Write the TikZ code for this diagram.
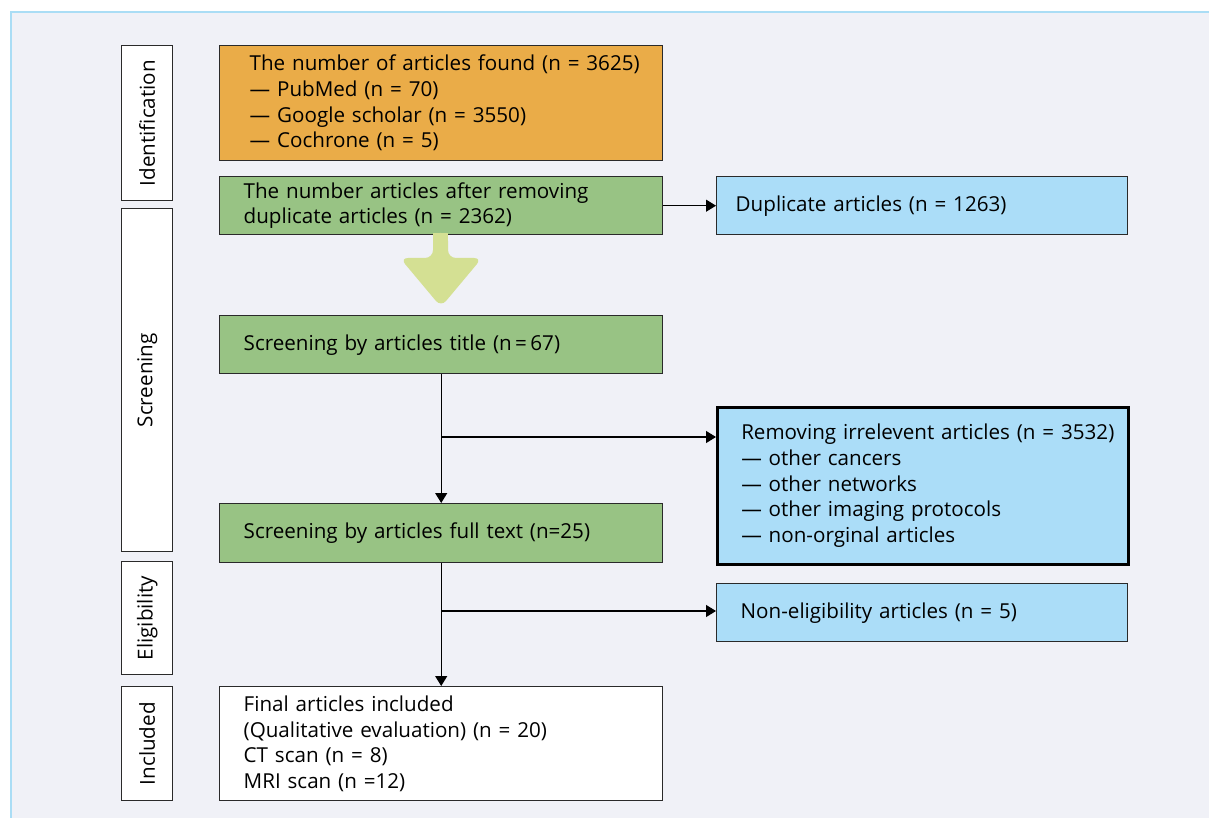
\documentclass[tikz,border=0pt]{standalone}
\usepackage{fontspec}
\setmainfont{Open Sans}
\usetikzlibrary{arrows.meta}
\definecolor{panelbg}{HTML}{F0F1F7}
\definecolor{panelline}{HTML}{AADDF5}
\definecolor{orangefill}{HTML}{EAAC48}
\definecolor{greenfill}{HTML}{98C384}
\definecolor{bluefill}{HTML}{ABDDF8}
\definecolor{bigarrow}{HTML}{D4E093}
\definecolor{edge}{HTML}{2A2A2A}
\tikzset{
  every node/.style={font=\fontsize{20.6}{25.7}\selectfont},
  box/.style={draw=edge, line width=1.4pt, anchor=north west, inner xsep=0pt, inner ysep=0pt, align=left},
  phase/.style={draw=edge, line width=1.4pt, fill=white, anchor=north west, minimum width=51pt, inner sep=0pt},
  conn/.style={draw=black, line width=1.2pt, -{Triangle[length=10pt,width=12pt]}},
}
\begin{document}
\begin{tikzpicture}[x=1pt,y=-1pt]
\useasboundingbox (0,0) rectangle (1209,818);
% panel
\fill[panelbg] (11,12) rectangle (1209,818);
\draw[panelline, line width=1.5pt] (11,818) -- (11,12) -- (1209,12);

% phase labels
\node[phase, minimum height=155pt] (pid) at (121,45) {\rotatebox{90}{Identification}};
\node[phase, minimum height=343pt] (pscr) at (121,208) {\rotatebox{90}{Screening}};
\node[phase, minimum height=113pt] (pelig) at (121,561) {\rotatebox{90}{Eligibility}};
\node[phase, minimum height=114pt] (pinc) at (121,686) {\rotatebox{90}{Included}};

% main column
\node[box, fill=orangefill, minimum width=443pt, minimum height=115pt, text width=443pt] (found) at (219,45)
  {\hspace*{30pt}The number of articles found (n = 3625)\\
   \hspace*{30pt}— PubMed (n = 70)\\
   \hspace*{30pt}— Google scholar (n = 3550)\\
   \hspace*{30pt}— Cochrone (n = 5)};
\node[box, fill=greenfill, minimum width=443pt, minimum height=58pt, text width=443pt] (dedup) at (219,176)
  {\hspace*{24pt}The number articles after removing\\
   \hspace*{24pt}duplicate articles (n = 2362)};
\node[box, fill=greenfill, minimum width=443pt, minimum height=58pt, text width=443pt] (title) at (219,315)
  {\hspace*{24pt}Screening by articles title (n\,=\,67)};
\node[box, fill=greenfill, minimum width=443pt, minimum height=59pt, text width=443pt] (full) at (219,503)
  {\hspace*{24pt}Screening by articles full text (n=25)};
\node[box, fill=white, minimum width=443pt, minimum height=114pt, text width=443pt] (final) at (219,686)
  {\hspace*{24pt}Final articles included\\
   \hspace*{24pt}(Qualitative evaluation) (n = 20)\\
   \hspace*{24pt}CT scan (n = 8)\\
   \hspace*{24pt}MRI scan (n =12)};

% side column
\node[box, fill=bluefill, minimum width=411pt, minimum height=58pt, text width=411pt] (dup) at (716,176)
  {\hspace*{19pt}Duplicate articles (n = 1263)};
\node[box, fill=bluefill, draw=black, line width=2.5pt, minimum width=411pt, minimum height=157pt, text width=411pt] (irrel) at (716,406)
  {\hspace*{24pt}Removing irrelevent articles (n = 3532)\\
   \hspace*{24pt}— other cancers\\
   \hspace*{24pt}— other networks\\
   \hspace*{24pt}— other imaging protocols\\
   \hspace*{24pt}— non-orginal articles};
\node[box, fill=bluefill, minimum width=411pt, minimum height=58pt, text width=411pt] (nonel) at (716,583)
  {\hspace*{24pt}Non-eligibility articles (n = 5)};

% big arrow
\fill[bigarrow, rounded corners=8pt] (433,233) -- (433,258) -- (400,258) -- (441,307) -- (482,258) -- (448,258) -- (448,233) -- cycle;
\fill[bigarrow] (433,233) rectangle (448,250);

% connectors
\draw[conn] (dedup.east) -- (dup.west);
\coordinate (b1) at (441,437);
\coordinate (b2) at (441,611);
\draw[conn] (title.south) -- (full.north);
\draw[conn] (b1) -- (b1 -| irrel.west);
\draw[conn] (full.south) -- (final.north);
\draw[conn] (b2) -- (b2 -| nonel.west);
\end{tikzpicture}
\end{document}
